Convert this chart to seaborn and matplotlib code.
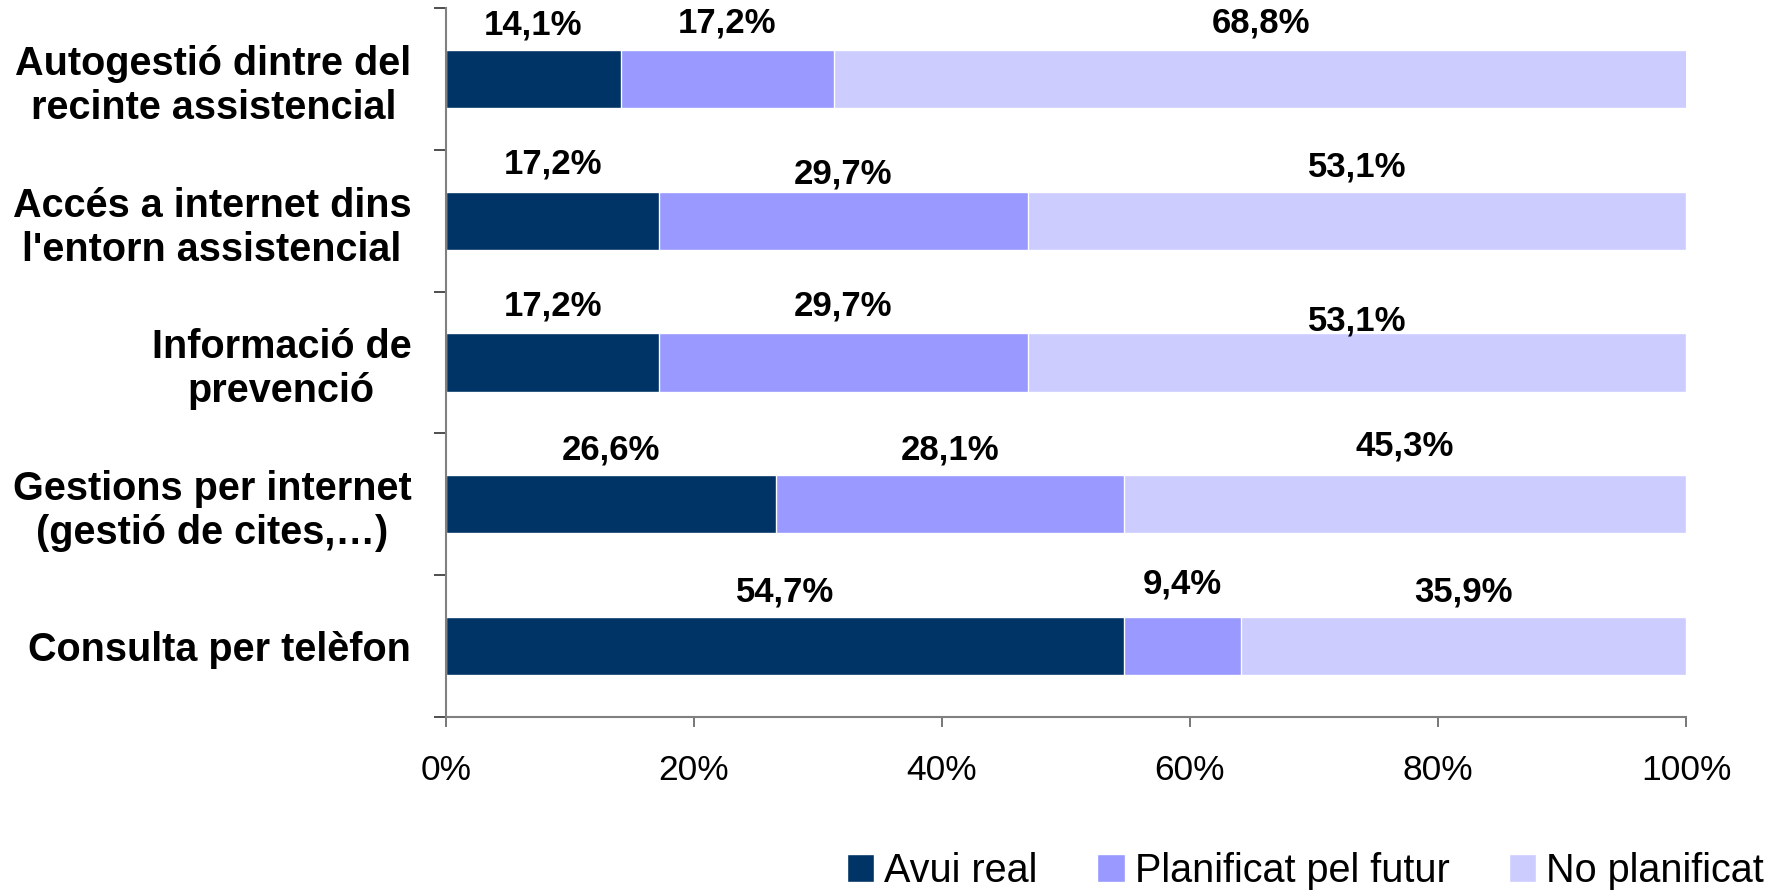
import matplotlib
matplotlib.use("Agg")
import matplotlib.pyplot as plt
import seaborn as sns
import numpy as np
import pandas as pd

categories = [
    "Autogestió dintre del\nrecinte assistencial",
    "Accés a internet dins\nl'entorn assistencial",
    "Informació de\nprevenció",
    "Gestions per internet\n(gestió de cites,…)",
    "Consulta per telèfon",
]
avui_real = [14.1, 17.2, 17.2, 26.6, 54.7]
planificat = [17.2, 29.7, 29.7, 28.1, 9.4]
no_planificat = [68.8, 53.1, 53.1, 45.3, 35.9]
series_names = ["Avui real", "Planificat pel futur", "No planificat"]
xtick_values = [0, 20, 40, 60, 80, 100]
xtick_labels = ["0%", "20%", "40%", "60%", "80%", "100%"]

# style / layout
colors = ["#003366", "#9999FF", "#CCCCFF"]
# gap (in category-band units) between bar top and label baseline
label_gaps = [
    [0.108, 0.124, 0.124],
    [0.129, 0.054, 0.105],
    [0.129, 0.129, 0.023],
    [0.110, 0.110, 0.141],
    [0.110, 0.164, 0.110],
]

sns.set_style("white")
plt.rcParams["font.family"] = ["Liberation Sans", "DejaVu Sans"]
plt.rcParams["text.color"] = "black"
plt.rcParams["xtick.color"] = "black"
plt.rcParams["ytick.color"] = "black"

fig = plt.figure(figsize=(17.79, 8.93), dpi=100)
ax = fig.add_axes([446/1779, 1-717/893, (1686-446)/1779, (717-8)/893])

df = pd.DataFrame({
    "cat": categories,
    "a": avui_real,
    "b": planificat,
    "c": no_planificat,
})
df["ab"] = df["a"] + df["b"]
df["abc"] = df["ab"] + df["c"]

bw = 0.41
sns.barplot(data=df, x="abc", y="cat", orient="h", color=colors[2], width=bw,
            saturation=1, ax=ax, label=series_names[2])
sns.barplot(data=df, x="ab", y="cat", orient="h", color=colors[1], width=bw,
            saturation=1, ax=ax, label=series_names[1])
sns.barplot(data=df, x="a", y="cat", orient="h", color=colors[0], width=bw,
            saturation=1, ax=ax, label=series_names[0])

# data labels centred above each segment
for i in range(len(categories)):
    starts = [0, avui_real[i], avui_real[i] + planificat[i]]
    vals = [avui_real[i], planificat[i], no_planificat[i]]
    for j in range(3):
        ax.text(starts[j] + vals[j] / 2, i - bw / 2 - label_gaps[i][j],
                f"{vals[j]:.1f}%".replace(".", ","),
                ha="center", va="baseline", fontsize=25, fontweight="bold",
                color="black")

ax.set_xlim(0, 100)
ax.set_ylim(len(categories) - 0.5, -0.5)
ax.set_xlabel("")
ax.set_ylabel("")

ax.set_xticks(xtick_values)
ax.set_xticklabels(xtick_labels, fontsize=25.5, color="black")
ax.tick_params(axis="x", direction="out", length=7, width=1.2, color="#606060",
               pad=20, bottom=True)

ax.set_yticks(range(len(categories)))
ax.set_yticklabels(categories, fontsize=28.5, fontweight="bold", color="black")
for t in ax.get_yticklabels():
    t.set_multialignment("center")
ax.tick_params(axis="y", which="major", length=0, pad=25)
ax.set_yticks(np.arange(-0.5, len(categories), 1.0), minor=True)
ax.tick_params(axis="y", which="minor", direction="out", length=8.5, width=1.2,
               color="#303030", left=True)

for s in ["top", "right"]:
    ax.spines[s].set_visible(False)
for s in ["left", "bottom"]:
    ax.spines[s].set_color("#808080")
    ax.spines[s].set_linewidth(1.5)

leg = ax.get_legend()
if leg is not None:
    leg.remove()
handles, labels = ax.get_legend_handles_labels()
order = [labels.index(n) for n in series_names]
fig.legend([handles[k] for k in order], [labels[k] for k in order],
           loc="center right", bbox_to_anchor=(1764/1779, 1-871/893),
           ncol=3, frameon=False, fontsize=28.5, handlelength=0.7,
           handleheight=0.7, handletextpad=0.25, columnspacing=1.5,
           borderpad=0, borderaxespad=0, labelcolor="black")

fig.savefig("out.png", dpi=100, facecolor="white")
